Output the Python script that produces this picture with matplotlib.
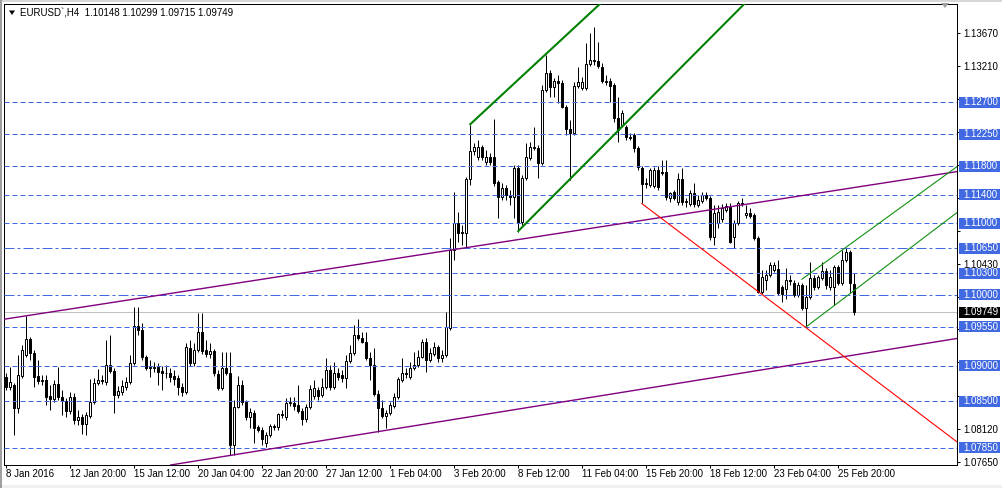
import numpy as np
import matplotlib
matplotlib.use("Agg")
import matplotlib.pyplot as plt
from matplotlib.patches import Rectangle, Polygon
from matplotlib.transforms import IdentityTransform

plt.rcParams['font.family'] = ['Liberation Sans', 'DejaVu Sans']

# ---------------- data ----------------
symbol_title = "EURUSD`,H4  1.10148 1.10299 1.09715 1.09749"

opens = [
    1.0884, 1.0870, 1.0873, 1.0841, 1.0886, 1.0915, 1.0938, 1.0918, 1.0886, 1.0879,
    1.0880, 1.0858, 1.0853, 1.0874, 1.0856, 1.0851, 1.0837, 1.0856, 1.0824, 1.0828,
    1.0818, 1.0830, 1.0849, 1.0876, 1.0880, 1.0877, 1.0901, 1.0893, 1.0859, 1.0863,
    1.0870, 1.0877, 1.0904, 1.0956, 1.0950, 1.0912, 1.0897, 1.0898, 1.0898, 1.0893,
    1.0890, 1.0890, 1.0886, 1.0883, 1.0870, 1.0863, 1.0925, 1.0904, 1.0922, 1.0947,
    1.0922, 1.0917, 1.0921, 1.0889, 1.0869, 1.0897, 1.0890, 1.0789, 1.0842, 1.0873,
    1.0849, 1.0828, 1.0834, 1.0814, 1.0810, 1.0792, 1.0803, 1.0816, 1.0814, 1.0832,
    1.0828, 1.0848, 1.0848, 1.0845, 1.0837, 1.0825, 1.0842, 1.0858, 1.0866, 1.0859,
    1.0870, 1.0894, 1.0870, 1.0890, 1.0887, 1.0883, 1.0907, 1.0918, 1.0943, 1.0939,
    1.0934, 1.0911, 1.0901, 1.0861, 1.0841, 1.0830, 1.0834, 1.0844, 1.0856, 1.0880,
    1.0890, 1.0884, 1.0897, 1.0901, 1.0912, 1.0934, 1.0908, 1.0917, 1.0926, 1.0911,
    1.0915, 1.0953, 1.1063, 1.1100, 1.1086, 1.1086, 1.1162, 1.1201, 1.1193, 1.1207,
    1.1186, 1.1193, 1.1193, 1.1158, 1.1137, 1.1150, 1.1140, 1.1137, 1.1178, 1.1102,
    1.1164, 1.1192, 1.1207, 1.1206, 1.1184, 1.1287, 1.1311, 1.1291, 1.1300, 1.1297,
    1.1263, 1.1232, 1.1227, 1.1293, 1.1290, 1.1290, 1.1323, 1.1329, 1.1328, 1.1319,
    1.1300, 1.1300, 1.1294, 1.1248, 1.1238, 1.1235, 1.1220, 1.1224, 1.1206, 1.1178,
    1.1155, 1.1154, 1.1152, 1.1175, 1.1172, 1.1172, 1.1136, 1.1144, 1.1130, 1.1162,
    1.1130, 1.1127, 1.1143, 1.1126, 1.1131, 1.1140, 1.1136, 1.1081, 1.1100, 1.1106,
    1.1119, 1.1123, 1.1081, 1.1100, 1.1128, 1.1112, 1.1115, 1.1112, 1.1079, 1.1004,
    1.1020, 1.1027, 1.1034, 1.1036, 1.1010, 1.1008, 1.1020, 1.1016, 1.0999, 1.1013,
    1.0981, 1.0996, 1.1023, 1.1010, 1.1023, 1.1033, 1.1010, 1.1010, 1.1039, 1.1016,
    1.1049, 1.1060, 1.10148,
]
highs = [
    1.0890, 1.0898, 1.0876, 1.0915, 1.0929, 1.0970, 1.0940, 1.0922, 1.0908, 1.0887,
    1.0887, 1.0873, 1.0880, 1.0898, 1.0866, 1.0855, 1.0863, 1.0862, 1.0838, 1.0832,
    1.0835, 1.0881, 1.0883, 1.0895, 1.0887, 1.0936, 1.0943, 1.0897, 1.0872, 1.0880,
    1.0884, 1.0915, 1.0983, 1.0983, 1.0960, 1.0915, 1.0908, 1.0905, 1.0904, 1.0900,
    1.0901, 1.0897, 1.0894, 1.0887, 1.0876, 1.0932, 1.0936, 1.0932, 1.0974, 1.0974,
    1.0936, 1.0932, 1.0924, 1.0894, 1.0919, 1.0919, 1.0919, 1.0852, 1.0886, 1.0880,
    1.0852, 1.0841, 1.0838, 1.0817, 1.0814, 1.0807, 1.0818, 1.0818, 1.0834, 1.0838,
    1.0855, 1.0856, 1.0856, 1.0873, 1.0841, 1.0846, 1.0873, 1.0880, 1.0870, 1.0883,
    1.0911, 1.0901, 1.0905, 1.0897, 1.0894, 1.0915, 1.0929, 1.0957, 1.0966, 1.0947,
    1.0947, 1.0919, 1.0925, 1.0866, 1.0852, 1.0838, 1.0849, 1.0862, 1.0884, 1.0911,
    1.0897, 1.0905, 1.0919, 1.0922, 1.0938, 1.0939, 1.0925, 1.0933, 1.0929, 1.0922,
    1.0976, 1.1079, 1.1144, 1.1116, 1.1098, 1.1165, 1.1238, 1.1213, 1.1217, 1.1210,
    1.1203, 1.1199, 1.1246, 1.1161, 1.1157, 1.1154, 1.1147, 1.1182, 1.1182, 1.1168,
    1.1213, 1.1214, 1.1235, 1.1210, 1.1294, 1.1336, 1.1315, 1.1304, 1.1308, 1.1301,
    1.1266, 1.1245, 1.1298, 1.1319, 1.1305, 1.1353, 1.1367, 1.1375, 1.1354, 1.1325,
    1.1308, 1.1304, 1.1297, 1.1277, 1.1259, 1.1238, 1.1227, 1.1227, 1.1209, 1.1181,
    1.1164, 1.1178, 1.1179, 1.1181, 1.1189, 1.1189, 1.1144, 1.1147, 1.1171, 1.1178,
    1.1136, 1.1147, 1.1157, 1.1140, 1.1144, 1.1144, 1.1138, 1.1126, 1.1126, 1.1127,
    1.1128, 1.1128, 1.1105, 1.1131, 1.1136, 1.1126, 1.1121, 1.1115, 1.1082, 1.1034,
    1.1034, 1.1046, 1.1046, 1.1049, 1.1013, 1.1037, 1.1027, 1.1020, 1.1017, 1.1016,
    1.1013, 1.1046, 1.1027, 1.1027, 1.1046, 1.1037, 1.1034, 1.1041, 1.1041, 1.1063,
    1.1066, 1.1063, 1.10299,
]
lows = [
    1.0866, 1.0866, 1.0803, 1.0834, 1.0883, 1.0912, 1.0908, 1.0870, 1.0874, 1.0873,
    1.0845, 1.0838, 1.0849, 1.0852, 1.0831, 1.0828, 1.0832, 1.0818, 1.0817, 1.0804,
    1.0803, 1.0827, 1.0846, 1.0873, 1.0874, 1.0873, 1.0890, 1.0834, 1.0855, 1.0859,
    1.0866, 1.0874, 1.0901, 1.0943, 1.0908, 1.0894, 1.0884, 1.0891, 1.0873, 1.0866,
    1.0883, 1.0877, 1.0873, 1.0859, 1.0858, 1.0861, 1.0900, 1.0900, 1.0919, 1.0917,
    1.0912, 1.0911, 1.0886, 1.0866, 1.0866, 1.0887, 1.0775, 1.0775, 1.0841, 1.0845,
    1.0824, 1.0813, 1.0792, 1.0807, 1.0789, 1.0786, 1.0800, 1.0810, 1.0810, 1.0827,
    1.0824, 1.0844, 1.0838, 1.0834, 1.0817, 1.0821, 1.0839, 1.0853, 1.0852, 1.0856,
    1.0867, 1.0866, 1.0867, 1.0880, 1.0877, 1.0869, 1.0904, 1.0915, 1.0936, 1.0932,
    1.0908, 1.0880, 1.0858, 1.0807, 1.0827, 1.0813, 1.0831, 1.0841, 1.0853, 1.0877,
    1.0883, 1.0881, 1.0894, 1.0898, 1.0911, 1.0891, 1.0905, 1.0914, 1.0905, 1.0905,
    1.0912, 1.0950, 1.1049, 1.1074, 1.1070, 1.1067, 1.1154, 1.1196, 1.1189, 1.1189,
    1.1182, 1.1182, 1.1152, 1.1107, 1.1133, 1.1133, 1.1126, 1.1108, 1.1088, 1.1098,
    1.1161, 1.1189, 1.1203, 1.1164, 1.1182, 1.1284, 1.1277, 1.1277, 1.1269, 1.1262,
    1.1224, 1.1161, 1.1224, 1.1290, 1.1287, 1.1287, 1.1321, 1.1322, 1.1318, 1.1297,
    1.1294, 1.1270, 1.1242, 1.1214, 1.1235, 1.1217, 1.1217, 1.1200, 1.1175, 1.1128,
    1.1150, 1.1151, 1.1150, 1.1147, 1.1168, 1.1133, 1.1130, 1.1133, 1.1126, 1.1126,
    1.1123, 1.1124, 1.1123, 1.1123, 1.1128, 1.1133, 1.1077, 1.1070, 1.1093, 1.1102,
    1.1116, 1.1072, 1.1066, 1.1098, 1.1124, 1.1107, 1.1107, 1.1077, 1.1002, 1.1001,
    1.1006, 1.1025, 1.1032, 1.0999, 1.0990, 1.0994, 1.1013, 1.0996, 1.0996, 1.0978,
    1.0954, 1.0994, 1.1006, 1.1008, 1.1020, 1.1008, 1.1006, 1.0985, 1.1013, 1.1013,
    1.1046, 1.1002, 1.09715,
]
closes = [
    1.0870, 1.0877, 1.0841, 1.0887, 1.0922, 1.0938, 1.0918, 1.0884, 1.0879, 1.0880,
    1.0856, 1.0853, 1.0874, 1.0856, 1.0851, 1.0837, 1.0856, 1.0824, 1.0828, 1.0818,
    1.0831, 1.0849, 1.0876, 1.0880, 1.0879, 1.0901, 1.0893, 1.0859, 1.0865, 1.0872,
    1.0877, 1.0904, 1.0956, 1.0950, 1.0912, 1.0897, 1.0898, 1.0897, 1.0891, 1.0890,
    1.0890, 1.0884, 1.0881, 1.0870, 1.0863, 1.0926, 1.0904, 1.0922, 1.0947, 1.0921,
    1.0917, 1.0921, 1.0890, 1.0869, 1.0897, 1.0890, 1.0789, 1.0842, 1.0873, 1.0849,
    1.0828, 1.0835, 1.0813, 1.0810, 1.0797, 1.0803, 1.0816, 1.0814, 1.0832, 1.0831,
    1.0848, 1.0849, 1.0844, 1.0837, 1.0825, 1.0842, 1.0867, 1.0869, 1.0858, 1.0870,
    1.0894, 1.0870, 1.0890, 1.0884, 1.0883, 1.0907, 1.0918, 1.0943, 1.0939, 1.0934,
    1.0911, 1.0901, 1.0861, 1.0841, 1.0830, 1.0834, 1.0845, 1.0856, 1.0881, 1.0890,
    1.0889, 1.0897, 1.0901, 1.0912, 1.0934, 1.0908, 1.0918, 1.0926, 1.0911, 1.0915,
    1.0955, 1.1063, 1.1100, 1.1086, 1.1088, 1.1162, 1.1201, 1.1207, 1.1207, 1.1193,
    1.1193, 1.1186, 1.1157, 1.1137, 1.1150, 1.1140, 1.1137, 1.1178, 1.1102, 1.1164,
    1.1193, 1.1207, 1.1206, 1.1184, 1.1287, 1.1311, 1.1291, 1.1300, 1.1297, 1.1263,
    1.1232, 1.1227, 1.1293, 1.1298, 1.1298, 1.1323, 1.1329, 1.1328, 1.1321, 1.1300,
    1.1298, 1.1293, 1.1248, 1.1231, 1.1255, 1.1221, 1.1221, 1.1206, 1.1179, 1.1155,
    1.1157, 1.1175, 1.1175, 1.1151, 1.1171, 1.1137, 1.1143, 1.1136, 1.1162, 1.1130,
    1.1131, 1.1143, 1.1127, 1.1133, 1.1140, 1.1136, 1.1081, 1.1115, 1.1116, 1.1121,
    1.1124, 1.1074, 1.1100, 1.1128, 1.1127, 1.1115, 1.1110, 1.1079, 1.1004, 1.1025,
    1.1027, 1.1041, 1.1041, 1.1002, 1.1001, 1.1020, 1.1019, 1.0999, 1.1013, 1.0981,
    1.0996, 1.1023, 1.1010, 1.1025, 1.1033, 1.1013, 1.1025, 1.1039, 1.1016, 1.1049,
    1.1060, 1.1016, 1.09749,
]

time_labels = ["8 Jan 2016", "12 Jan 20:00", "15 Jan 12:00", "20 Jan 04:00",
               "22 Jan 20:00", "27 Jan 12:00", "1 Feb 04:00", "3 Feb 20:00",
               "8 Feb 12:00", "11 Feb 04:00", "15 Feb 20:00", "18 Feb 12:00",
               "23 Feb 04:00", "25 Feb 20:00"]
bars_per_label = 16

price_ticks = [1.1367, 1.1321, 1.1275, 1.1228, 1.1182, 1.1136, 1.1089,
               1.1043, 1.0997, 1.0951, 1.0905, 1.0858, 1.0812, 1.0765]

dash_levels = [1.1270, 1.1225, 1.1180, 1.1140, 1.1100, 1.1030,
               1.0955, 1.0900, 1.0850, 1.0785]
dashdot_levels = [1.1065, 1.1000]
bid_price = 1.09749

# trend lines: (bar, price) anchors
purple_upper = [(5, 1.0970), (212, 1.1150)]
purple_lower = [(57, 1.0775), (212, 1.0915)]
green_upper = [(116, 1.1238), (145, 1.1389)]
green_lower = [(128, 1.1088), (178, 1.1370)]
thin_upper = [(199, 1.1021), (212, 1.1074)]
thin_lower = [(200, 1.0954), (212, 1.1005)]
red_line = [(159, 1.1128), (200, 1.0954)]

# ---------------- figure ----------------
W, H = 1002, 488
fig = plt.figure(figsize=(W / 100, H / 100), dpi=100)
fig.patch.set_facecolor('white')
PL, PR, PT, PB = 4, 957, 4, 465
ax = fig.add_axes([PL / W, 1 - PB / H, (PR - PL) / W, (PB - PT) / H])
ax.set_facecolor('white')
ax.set_xlim(-0.375, -0.375 + (PR - PL) / 4.0)
ax.set_ylim(1.07608, 1.14077)

BLUE = '#4169E1'
LW1 = 0.72  # one pixel

o = np.array(opens); h = np.array(highs); l = np.array(lows); c = np.array(closes)
idx = np.arange(len(o))
bull = c >= o
ax.vlines(idx, l, h, color='black', linewidth=LW1, zorder=2)
bottoms = np.minimum(o, c)
heights = np.maximum(np.abs(c - o), 0.00001)
ax.bar(idx[bull], heights[bull], bottom=bottoms[bull], width=0.5,
       facecolor='white', edgecolor='black', linewidth=LW1, zorder=3)
ax.bar(idx[~bull], heights[~bull], bottom=bottoms[~bull], width=0.5,
       facecolor='black', edgecolor='black', linewidth=LW1, zorder=3)

# horizontal levels
for lv in dash_levels:
    ax.axhline(lv, color=BLUE, linewidth=LW1, linestyle=(0, (5, 3)), zorder=4)
for lv in dashdot_levels:
    ax.axhline(lv, color=BLUE, linewidth=LW1, linestyle=(0, (10, 3, 3, 3)), zorder=4)
ax.axhline(bid_price, color='#C0C0C0', linewidth=LW1, zorder=1.5)

# trend lines
xmax = ax.get_xlim()[1]

def ray(pts, **kw):
    (x1, y1), (x2, y2) = pts
    s = (y2 - y1) / (x2 - x1)
    ax.plot([x1, xmax + 5], [y1, y1 + s * (xmax + 5 - x1)], solid_capstyle='butt', **kw)

ax.axline(purple_upper[0], purple_upper[1], color='#800080', linewidth=1.0, zorder=5)
ax.axline(purple_lower[0], purple_lower[1], color='#800080', linewidth=1.0, zorder=5)
ray(green_upper, color='#008000', linewidth=1.5, zorder=5)
ray(green_lower, color='#008000', linewidth=1.5, zorder=5)
ray(thin_upper, color='#109010', linewidth=0.8, zorder=5)
ray(thin_lower, color='#109010', linewidth=0.8, zorder=5)
ray(red_line, color='#FF0000', linewidth=0.8, zorder=5)

# axes styling
for sp in ax.spines.values():
    sp.set_color('black')
    sp.set_linewidth(LW1)

boxed_levels = dash_levels + dashdot_levels + [bid_price]

def ydisp(price):
    return ax.transData.transform((0, price))[1]

# regular price scale labels; those lying under a level box are hidden by it
tick_texts = []
for p in price_ticks:
    hidden = min(abs(ydisp(p) - ydisp(b)) for b in boxed_levels) < 8
    tick_texts.append("" if hidden else f"{p:.5f}")

ax.yaxis.tick_right()
ax.set_yticks(price_ticks)
ax.set_yticklabels(tick_texts)
ax.tick_params(axis='y', direction='out', length=2.2, width=LW1, pad=2.2,
               labelsize=7, colors='black')
ax.set_xticks(idx[::bars_per_label])
ax.set_xticklabels(time_labels)
for lbl in ax.get_xticklabels():
    lbl.set_horizontalalignment('left')
ax.tick_params(axis='x', direction='out', length=2.2, width=LW1, pad=0.6,
               labelsize=7, colors='black')

# price label boxes (display pixel coordinates)
ident = IdentityTransform()

def box_label(price, text, fc):
    yd = ydisp(price)
    fig.add_artist(Rectangle((959, yd - 5.5), 41, 11, transform=ident,
                             facecolor=fc, edgecolor='none', zorder=10))
    fig.add_artist(plt.Text(963, yd, text, transform=ident, color='white',
                            fontsize=7, va='center', ha='left', zorder=11))

for lv in dash_levels + dashdot_levels:
    box_label(lv, f"{lv:.5f}", BLUE)
box_label(bid_price, f"{bid_price:.5f}", 'black')

# title and small markers
fig.add_artist(Polygon([(9, H - 10.5), (15, H - 10.5), (12, H - 15)], closed=True,
                       transform=ident, facecolor='black', edgecolor='none', zorder=10))
fig.text(20 / W, 1 - 13 / H, symbol_title, fontsize=7, va='center', ha='left', color='black')
fig.add_artist(Polygon([(941, H - 3), (949, H - 3), (945, H - 8)], closed=True,
                       transform=ident, facecolor='#A0A0A0', edgecolor='none', zorder=10))

# window frame
fig.add_artist(Rectangle((0, 0), W, 3, transform=ident, facecolor='#F0F0F0',
                         edgecolor='none', zorder=9))
fig.add_artist(Rectangle((0, H - 2), W, 2, transform=ident, facecolor='#D8D8D8',
                         edgecolor='none', zorder=9))
fig.add_artist(Rectangle((0, 0), 2, H, transform=ident, facecolor='#A0A0A0',
                         edgecolor='none', zorder=9))

fig.savefig('out.png', dpi=100, facecolor='white')
